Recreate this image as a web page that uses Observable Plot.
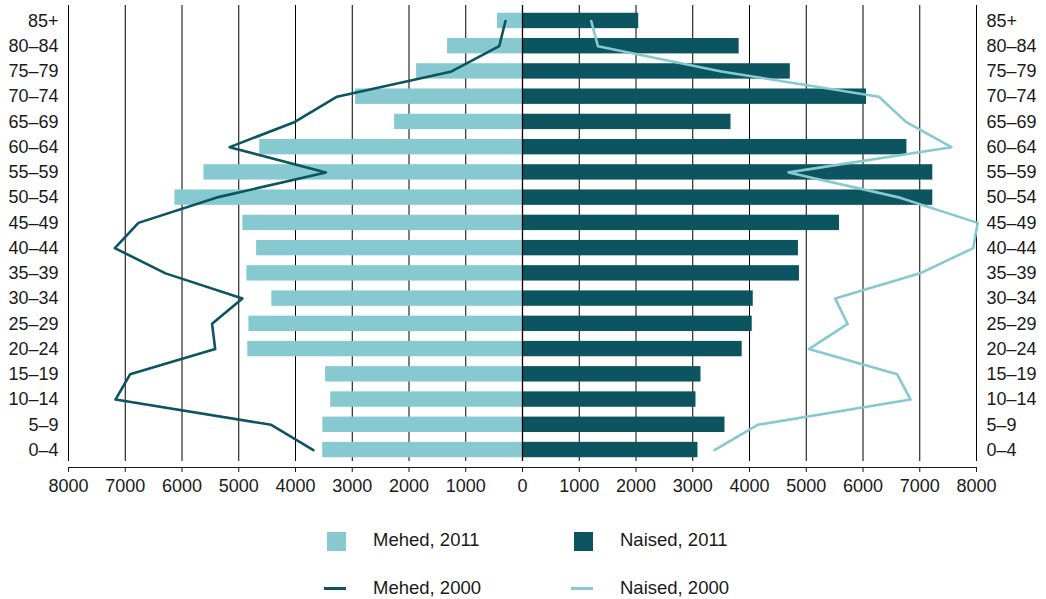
<!DOCTYPE html>
<html><head><meta charset="utf-8">
<script src="https://cdn.jsdelivr.net/npm/d3@7"></script>
<script src="https://cdn.jsdelivr.net/npm/@observablehq/plot@0.6"></script>
<style>
body{margin:0;background:#fff;font-family:"Liberation Sans",Arial,sans-serif;}
#wrap{position:relative;width:1046px;height:599px;overflow:hidden;}
#chart svg{display:block;}
#chart svg text{font-size:18px;fill:#1a1a1a;}
.lg{position:absolute;font-size:18.5px;color:#1a1a1a;line-height:20px;white-space:nowrap;}
.sq{position:absolute;width:19px;height:19px;}
.ln{position:absolute;width:22px;height:3px;}
</style></head><body>
<div id="wrap"><div id="chart"></div><div id="legend"></div></div>
<script>
const ages = ["0–4","5–9","10–14","15–19","20–24","25–29","30–34","35–39","40–44","45–49","50–54","55–59","60–64","65–69","70–74","75–79","80–84","85+"];
const men2011 = [3520,3518,3380,3470,4840,4821,4417,4857,4685,4928,6125,5613,4630,2253,2940,1866,1320,440];
const women2011 = [3092,3568,3057,3145,3871,4048,4066,4880,4862,5586,7230,7230,6774,3674,6062,4719,3818,2048];
const men2000 = [3685,4428,7172,6915,5415,5470,4935,6290,7183,6768,5398,3465,5160,4012,3268,1250,410,300];
const women2000 = [3384,4143,6839,6602,5046,5729,5510,7005,7943,8020,6650,4690,7558,6756,6281,3503,1329,1210];
const xTicks = d3.range(-8000, 8001, 1000);
const legendItems = [
  {label:"Mehed, 2011", kind:"sq", color:"#86c9d0"},
  {label:"Naised, 2011", kind:"sq", color:"#0c5460"},
  {label:"Mehed, 2000", kind:"ln", color:"#0c5460"},
  {label:"Naised, 2000", kind:"ln", color:"#86c9d0"}
];
const light = "#86c9d0", dark = "#0c5460";

const rows = ages.map((a,i)=>({age:a, m11:men2011[i], w11:women2011[i], m00:men2000[i], w00:women2000[i]}));

const plot = Plot.plot({
  width:1046, height:505,
  marginLeft:68, marginRight:70, marginTop:5, marginBottom:38,
  style:{fontFamily:"Liberation Sans, Arial, sans-serif", fontSize:"18px", color:"#1a1a1a", background:"white", overflow:"visible"},
  x:{domain:[-8000,8000], ticks:xTicks, tickFormat:d=>String(Math.abs(d)), tickSize:5, tickPadding:7, line:true, label:null},
  y:{domain:ages.slice().reverse(), paddingInner:0.39, paddingOuter:0.3075, insetBottom:2, round:false, axis:"both", tickSize:0, tickPadding:10, label:null},
  marks:[
    Plot.ruleX(xTicks, {stroke:"#000", strokeWidth:1, insetBottom:6}),
    Plot.barX(rows, {y:"age", x:d=>-d.m11, fill:light}),
    Plot.barX(rows, {y:"age", x:"w11", fill:dark}),
    Plot.ruleX([0], {stroke:"#000", strokeWidth:1.3, insetBottom:6}),
    Plot.line(rows, {y:"age", x:d=>-d.m00, stroke:dark, strokeWidth:2.6}),
    Plot.line(rows, {y:"age", x:"w00", stroke:light, strokeWidth:2.6})
  ]
});
document.getElementById("chart").appendChild(plot);

const pos = [
  {sx:327, tx:373, y:540},
  {sx:574, tx:620, y:540},
  {sx:324, tx:373, y:588},
  {sx:571, tx:620, y:588}
];
const lg = document.getElementById("legend");
legendItems.forEach((it,i)=>{
  const p = pos[i];
  const sw = document.createElement("div");
  sw.className = it.kind;
  sw.style.background = it.color;
  sw.style.left = p.sx + "px";
  sw.style.top = (it.kind === "sq" ? p.y - 8.5 : p.y - 1.5) + "px";
  lg.appendChild(sw);
  const t = document.createElement("div");
  t.className = "lg";
  t.textContent = it.label;
  t.style.left = p.tx + "px";
  t.style.top = (p.y - 10) + "px";
  lg.appendChild(t);
});
</script>
</body></html>
